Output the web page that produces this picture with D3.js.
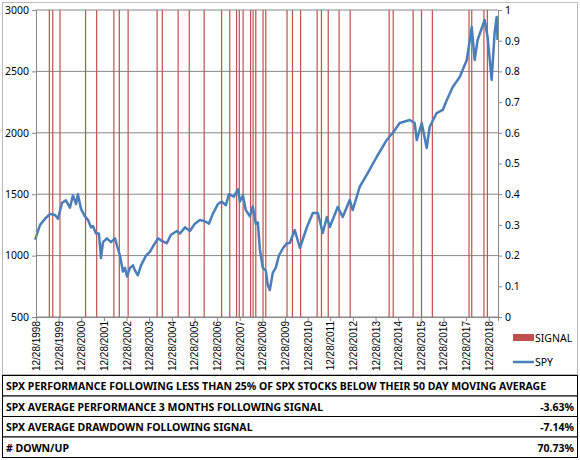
<!doctype html>
<html>
<head>
<script type='text/javascript' src='https://d3js.org/d3.v7.min.js'></script>
<style>body{margin:0;background:#fff}text{font-family:'Noto Sans',sans-serif}</style>
</head>
<body>
<script>
var width = 580, height = 460;
// data (decimal years)
var spyYears = [1998.95,1999.17,1999.39,1999.61,1999.83,1999.96,2000.14,2000.31,2000.49,2000.62,2000.76,2000.84,2000.98,2001.15,2001.29,2001.42,2001.51,2001.64,2001.77,2001.86,2001.95,2002.12,2002.30,2002.48,2002.57,2002.70,2002.83,2002.92,2003.01,2003.14,2003.27,2003.36,2003.49,2003.63,2003.85,2004.02,2004.24,2004.38,2004.55,2004.77,2004.95,2005.22,2005.35,2005.57,2005.79,2006.01,2006.23,2006.45,2006.63,2006.80,2007.03,2007.20,2007.38,2007.51,2007.73,2007.91,2008.00,2008.13,2008.26,2008.44,2008.57,2008.70,2008.79,2008.88,2009.01,2009.14,2009.23,2009.32,2009.45,2009.58,2009.72,2009.90,2010.07,2010.20,2010.42,2010.65,2010.96,2011.22,2011.44,2011.66,2011.84,2011.97,2012.32,2012.54,2012.85,2012.98,2013.29,2013.65,2014.04,2014.48,2014.75,2015.06,2015.50,2015.72,2015.81,2016.03,2016.25,2016.38,2016.69,2016.96,2017.14,2017.40,2017.71,2018.02,2018.24,2018.37,2018.50,2018.81,2018.94,2019.12,2019.25,2019.34,2019.38];
var spyValues = [1130,1250,1300,1340,1330,1300,1430,1450,1390,1490,1420,1500,1380,1320,1290,1230,1240,1180,1180,980,1110,1140,1110,1140,1080,1000,870,900,830,900,920,880,840,920,1000,1030,1100,1140,1120,1100,1170,1200,1180,1230,1200,1260,1290,1280,1260,1340,1420,1440,1410,1500,1480,1540,1440,1490,1370,1320,1400,1260,1270,1050,900,880,760,720,860,900,1000,1060,1100,1103,1208,1062,1233,1347,1347,1184,1314,1233,1396,1314,1453,1371,1559,1673,1803,1941,1998,2080,2104,2080,1941,2080,1876,2047,2161,2186,2267,2373,2454,2593,2861,2593,2756,2919,2780,2430,2813,2943,2756];
var signalYears = [1999.58,1999.73,2000.05,2001.18,2001.67,2002.43,2002.67,2003.06,2004.34,2004.57,2005.27,2005.76,2006.42,2007.19,2007.55,2007.85,2007.97,2008.14,2008.47,2008.58,2008.70,2009.02,2009.14,2010.08,2010.32,2010.68,2011.41,2011.60,2011.90,2012.38,2012.87,2014.59,2014.77,2015.65,2016.02,2016.50,2018.12,2018.24,2018.78,2018.93];
var tickYears = d3.range(1998, 2019);
var leftTicks = [500,1000,1500,2000,2500,3000];
var rightTicks = d3.range(0, 11).map(function(i){return i/10;});
var tableRows = [
 ['SPX PERFORMANCE FOLLOWING LESS THAN 25% OF SPX STOCKS BELOW THEIR 50 DAY MOVING AVERAGE',''],
 ['SPX AVERAGE PERFORMANCE 3 MONTHS FOLLOWING SIGNAL','-3.63%'],
 ['SPX AVERAGE DRAWDOWN FOLLOWING SIGNAL','-7.14%'],
 ['# DOWN/UP','70.73%']
];

var svg = d3.select('body').append('svg').attr('width',width).attr('height',height);
svg.append('rect').attr('x',2.5).attr('y',2.5).attr('width',575).attr('height',372)
 .attr('fill','none').attr('stroke','#bbb');

var x = d3.scaleLinear().domain([1998.99, 2019.4]).range([36, 498]);
var y = d3.scaleLinear().domain([500, 3000]).range([317, 10]);
var y2 = d3.scaleLinear().domain([0, 1]).range([317, 10]);

// grid
svg.append('g').selectAll('line').data(leftTicks).join('line')
 .attr('x1',36).attr('x2',498).attr('y1',function(d){return y(d)}).attr('y2',function(d){return y(d)})
 .attr('stroke','#888').attr('stroke-width',1);

// signals
svg.append('g').selectAll('line').data(signalYears).join('line')
 .attr('x1',function(d){return x(d)}).attr('x2',function(d){return x(d)})
 .attr('y1',y2(1)).attr('y2',y2(0))
 .attr('stroke','#c0504d').attr('stroke-width',1.2);

// spy line
var line = d3.line().x(function(d,i){return x(spyYears[i])}).y(function(d){return y(d)});
svg.append('path').datum(spyValues).attr('d',line).attr('fill','none')
 .attr('stroke','#4a7ebb').attr('stroke-width',2.5).attr('stroke-linejoin','round');

// axes
var gl = svg.append('g').attr('transform','translate(36,0)')
 .call(d3.axisLeft(y).tickValues(leftTicks).tickSize(4).tickFormat(d3.format('d')));
var gr = svg.append('g').attr('transform','translate(498,0)')
 .call(d3.axisRight(y2).tickValues(rightTicks).tickSize(4).tickFormat(d3.format('')));
var gb = svg.append('g').attr('transform','translate(0,317)')
 .call(d3.axisBottom(x).tickValues(tickYears.map(function(d){return d+0.99})).tickSize(4)
 .tickFormat(function(d){return '12/28/'+Math.round(d-0.99)}));
[gl,gr,gb].forEach(function(g){
 g.select('.domain').attr('stroke','#888');
 g.selectAll('.tick line').attr('stroke','#888');
 g.selectAll('text').attr('font-size',10.5).attr('fill','#000');
});
gb.selectAll('text').attr('transform','rotate(-90)').attr('text-anchor','end')
 .attr('x',-4).attr('y',0).attr('dy','0.35em')
 .style('font-family','Liberation Sans').style('font-size','10px');

// legend
var lg = svg.append('g');
lg.append('rect').attr('x',513).attr('y',334).attr('width',21).attr('height',7).attr('fill','#c0504d');
lg.append('text').attr('x',535).attr('y',342).attr('font-size',10.5).text('SIGNAL');
lg.append('line').attr('x1',513).attr('x2',534).attr('y1',362).attr('y2',362).attr('stroke','#4a7ebb').attr('stroke-width',2.5);
lg.append('text').attr('x',535).attr('y',366).attr('font-size',10.5).text('SPY');

// table
var rowH = 20.5, tableTop = 375;
var tr = svg.append('g').selectAll('g').data(tableRows).join('g')
 .attr('transform',function(d,i){return 'translate(0,'+(tableTop+i*rowH)+')'});
tr.append('rect').attr('x',2.5).attr('y',0.5).attr('width',575).attr('height',rowH)
 .attr('fill','#fff').attr('stroke','#000');
tr.append('text').attr('x',6).attr('y',15).attr('font-size',10.5).attr('font-weight','bold').text(function(d){return d[0]});
tr.append('text').attr('x',574).attr('y',15).attr('text-anchor','end').attr('font-size',10.5).attr('font-weight','bold').text(function(d){return d[1]});
</script>
</body>
</html>
